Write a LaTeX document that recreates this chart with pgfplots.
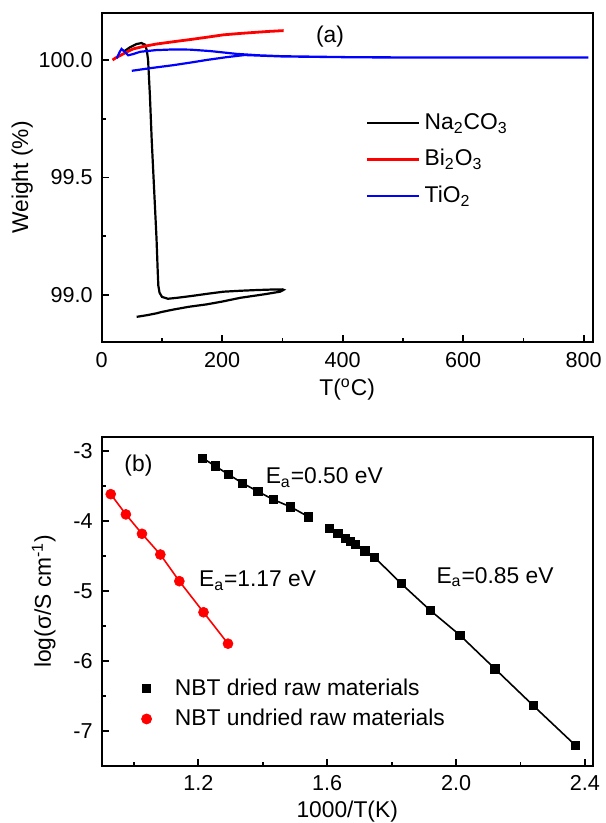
\documentclass[border=0pt]{standalone}
\usepackage{fontspec}
\setmainfont{Liberation Sans}
\usepackage{pgfplots}
\pgfplotsset{compat=1.18}

\begin{document}
\begin{tikzpicture}
\useasboundingbox (-50.85pt,-28.65pt) rectangle (251.65pt,382.85pt);
\pgfplotsset{
  every axis/.append style={
    scale only axis, width=245.5pt, height=164.5pt,
    font=\fontsize{11.4}{13}\selectfont,
    axis line style={line width=0.9pt},
    tick align=inside, tick pos=left,
    major tick length=3.5pt, minor tick length=2pt,
    every tick/.style={line width=0.9pt, black},
    tick label style={font=\fontsize{10.8}{12}\selectfont},
    /pgf/number format/assume math mode=true,
    clip=false,
  },
}

% (b) conductivity
\begin{axis}[
  name=bot,
  xmin=0.9, xmax=2.424, ymin=-7.5, ymax=-2.8,
  xtick={1.2,1.6,2.0,2.4}, minor xtick={1.0,1.4,1.8,2.2},
  ytick={-7,-6,-5,-4,-3}, minor ytick={-7.5,-6.5,-5.5,-4.5,-3.5},
  xticklabel style={/pgf/number format/fixed, /pgf/number format/fixed zerofill,
    /pgf/number format/precision=1, yshift=-1.5pt},
  yticklabel style={xshift=-1pt},
  xlabel={1000/T(K)},
  ylabel={log(σ/S cm\textsuperscript{-1})},
  xlabel style={at={(axis description cs:0.5,-0.141)}, anchor=center},
  ylabel style={at={(axis description cs:-0.118,0.5)}, anchor=center},
  legend style={at={(rel axis cs:0.045,0.29)}, anchor=north west, draw=none, fill=none,
    font=\fontsize{11.4}{13}\selectfont, row sep=1.5pt},
  legend cell align=left,
  legend image code/.code={\path (0pt,0pt) (20pt,0pt); \draw[#1] plot coordinates {(8pt,0pt)};},
]
\addplot[black, line width=0.8pt, mark=square*, mark size=2.1pt, mark options={line width=0.3pt}, forget plot]
  coordinates {(1.213,-3.105) (1.252,-3.218) (1.293,-3.338) (1.337,-3.463) (1.384,-3.580) (1.432,-3.697) (1.486,-3.802) (1.542,-3.944)};
\addplot[black, line width=0.8pt, mark=square*, mark size=2.1pt, mark options={line width=0.3pt}, forget plot]
  coordinates {(1.607,-4.108) (1.633,-4.180) (1.656,-4.248) (1.672,-4.290) (1.688,-4.335) (1.717,-4.430) (1.746,-4.519)
    (1.829,-4.896) (1.919,-5.278) (2.012,-5.636) (2.120,-6.113) (2.239,-6.639) (2.370,-7.208)};
\addplot[red, line width=0.8pt, mark=*, mark size=2.5pt, mark options={line width=0.3pt}, forget plot]
  coordinates {(0.928,-3.621) (0.975,-3.910) (1.025,-4.187) (1.082,-4.483) (1.141,-4.864) (1.216,-5.308) (1.292,-5.757)};
\addlegendimage{only marks, black, mark=square*, mark size=2.1pt}
\addlegendentry{NBT dried raw materials}
\addlegendimage{only marks, red, mark=*, mark size=2.5pt}
\addlegendentry{NBT undried raw materials}
\node[anchor=center] at (axis cs:1.014,-3.215) {(b)};
\node[anchor=base west, inner sep=0pt] at (axis cs:1.408,-3.473) {E\textsubscript{a}=0.50 eV};
\node[anchor=base west, inner sep=0pt] at (axis cs:1.201,-4.945) {E\textsubscript{a}=1.17 eV};
\node[anchor=base west, inner sep=0pt] at (axis cs:1.938,-4.897) {E\textsubscript{a}=0.85 eV};
\end{axis}

% (a) TGA
\begin{axis}[
  name=top, at={(0,211.85pt)}, anchor=south west,
  xmin=0, xmax=815, ymin=98.8, ymax=100.2,
  xtick={0,200,400,600,800}, minor xtick={100,300,500,700},
  ytick={99,99.5,100}, minor ytick={99.25,99.75},
  yticklabel style={/pgf/number format/fixed, /pgf/number format/fixed zerofill,
    /pgf/number format/precision=1, xshift=-1pt},
  xticklabel style={yshift=-1.5pt},
  xlabel={T(\textsuperscript{o}C)},
  ylabel={Weight (\%)},
  xlabel style={at={(axis description cs:0.5,-0.145)}, anchor=center},
  ylabel style={at={(axis description cs:-0.162,0.5)}, anchor=center},
  legend style={at={(rel axis cs:0.525,0.72)}, anchor=north west, draw=none, fill=none,
    font=\fontsize{11.4}{13}\selectfont, row sep=4.5pt},
  legend cell align=left,
  legend image code/.code={\draw[#1] (0pt,0pt) -- (26pt,0pt);},
]
\addplot[black, line width=1.1pt] coordinates {
  (36,100.035) (47,100.054) (58,100.068) (66,100.072) (72,100.065) (75,100.040) (77,100.000)
  (80,99.850) (83,99.660) (87,99.450) (91,99.240) (93,99.100) (94,99.040) (96,99.010)
  (100,98.992) (110,98.984) (125,98.988) (147,98.995) (175,99.005) (202,99.014) (230,99.018)
  (257,99.021) (280,99.023) (300,99.024) (302,99.022) (296,99.014) (270,99.003) (230,98.988)
  (200,98.972) (174,98.960) (145,98.950) (119,98.938) (100,98.928) (91,98.922) (75,98.914) (58,98.907)};
\addlegendentry{Na\textsubscript{2}CO\textsubscript{3}}
\addplot[red, line width=1.4pt] coordinates {
  (18,100.000) (24,100.010) (30,100.018) (40,100.032) (52,100.047) (70,100.058) (91,100.068)
  (120,100.078) (147,100.087) (175,100.097) (202,100.107) (230,100.113) (257,100.118)
  (280,100.122) (302,100.125)};
\addlegendentry{Bi\textsubscript{2}O\textsubscript{3}}
\addplot[blue, line width=1.1pt] coordinates {
  (25,100.007) (30,100.035) (33,100.047) (38,100.035) (44,100.020) (52,100.025) (64,100.035)
  (90,100.042) (120,100.045) (147,100.044) (180,100.038) (224,100.026) (260,100.020)
  (300,100.016) (412,100.012) (500,100.011) (600,100.011) (700,100.011) (808,100.011)
  (700,100.010) (500,100.010) (400,100.012) (300,100.015) (237,100.021) (207,100.012)
  (174,100.000) (150,99.990) (119,99.978) (80,99.965) (50,99.954)};
\addlegendentry{TiO\textsubscript{2}}
\node[anchor=center] at (axis cs:379,100.098) {(a)};
\end{axis}
\end{tikzpicture}
\end{document}
